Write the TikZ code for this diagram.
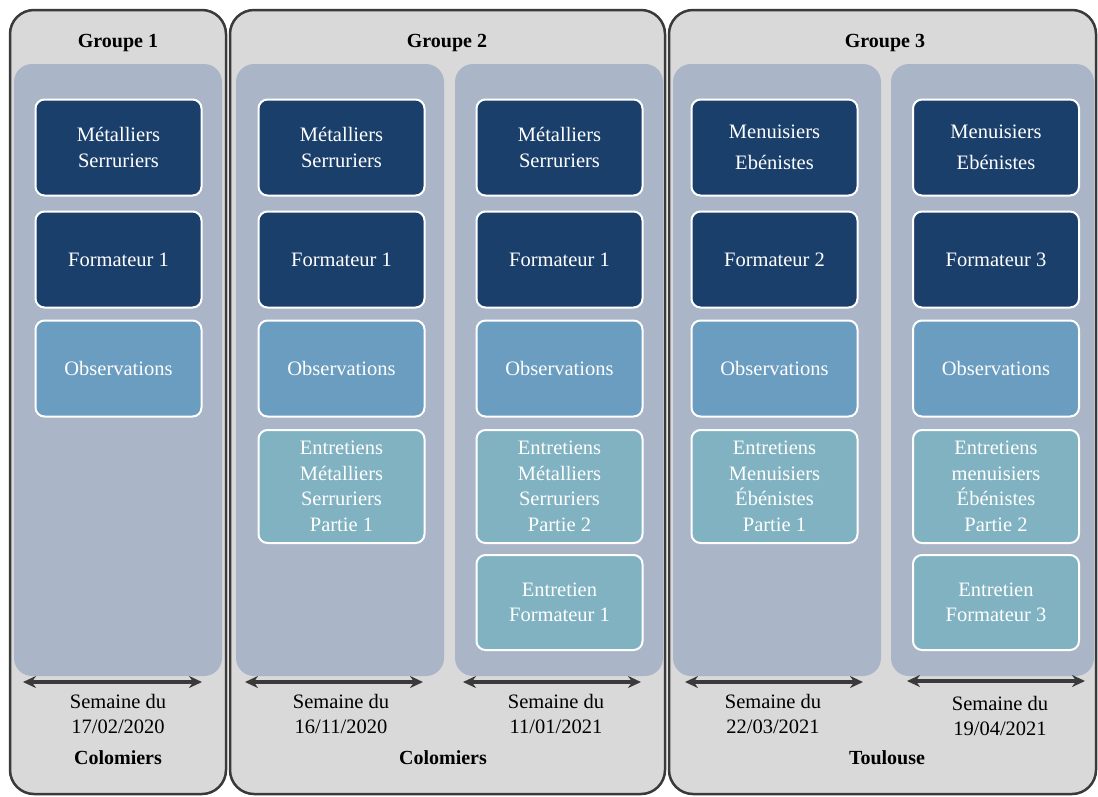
\documentclass[tikz,border=0pt]{standalone}
\usepackage{fontspec}
\setmainfont{Liberation Serif}
\usetikzlibrary{arrows.meta}
\definecolor{groupgray}{HTML}{D9D9D9}
\definecolor{colgray}{HTML}{ABB5C8}
\definecolor{navy}{HTML}{1B3F6B}
\definecolor{obsblue}{HTML}{6A9DBF}
\definecolor{intblue}{HTML}{80B2C1}
\definecolor{edgegray}{HTML}{3A3A3A}
\newcommand{\cellfont}{\fontsize{20.5}{25.5}\selectfont}
\newcommand{\titlefont}{\fontsize{20}{24}\selectfont\bfseries}
\tikzset{
  groupbox/.style={draw=edgegray, line width=2.5pt, fill=groupgray, rounded corners=24pt},
  colbox/.style={fill=colgray, rounded corners=18pt},
  cell/.style={draw=white, line width=2pt, rounded corners=9pt, text=white,
    align=center, minimum width=166pt, inner sep=2pt, font=\cellfont},
  darkcell/.style={cell, fill=navy, minimum height=96pt},
  obscell/.style={cell, fill=obsblue, minimum height=96pt},
  intcell/.style={cell, fill=intblue},
  week/.style={{Stealth[length=13pt,width=12pt]}-{Stealth[length=13pt,width=12pt]},
    draw=edgegray, line width=3.2pt},
  weektext/.style={align=center, font=\cellfont},
  grouptitle/.style={font=\titlefont}
}

\begin{document}
\begin{tikzpicture}[x=1pt, y=-1pt]
    \useasboundingbox (0,0) rectangle (1098,796);
    % groups
    \draw[groupbox] (10,10) rectangle (226,794);
    \draw[groupbox] (230,10) rectangle (665,794);
    \draw[groupbox] (669,10) rectangle (1096,794);
    \node[grouptitle] (g1) at (118,43) {Groupe 1};
    \node[grouptitle] (g2) at (447,43) {Groupe 2};
    \node[grouptitle] (g3) at (885,43) {Groupe 3};
    % one column per week
    \foreach \xa/\xb in {14/222, 236/444, 455/663, 673/881, 891/1094}
        \fill[colbox] (\xa,64) rectangle (\xb,676);

    % week 1
    \node[darkcell] (met1) at (118.5,147.5) {Métalliers\\Serruriers};
    \node[darkcell] (form1) at (118.5,259.5) {Formateur 1};
    \node[obscell] (obs1) at (118.5,368.5) {Observations};
    % week 2
    \node[darkcell] (met2) at (341.5,147.5) {Métalliers\\Serruriers};
    \node[darkcell] (form2) at (341.5,259.5) {Formateur 1};
    \node[obscell] (obs2) at (341.5,368.5) {Observations};
    \node[intcell, minimum height=113pt] (int2) at (341.5,486.5)
        {Entretiens\\Métalliers\\Serruriers\\Partie 1};
    % week 3
    \node[darkcell] (met3) at (559.5,147.5) {Métalliers\\Serruriers};
    \node[darkcell] (form3) at (559.5,259.5) {Formateur 1};
    \node[obscell] (obs3) at (559.5,368.5) {Observations};
    \node[intcell, minimum height=113pt] (int3) at (559.5,486.5)
        {Entretiens\\Métalliers\\Serruriers\\Partie 2};
    \node[intcell, minimum height=95pt] (intf3) at (559.5,602.5)
        {Entretien\\Formateur 1};
    % week 4
    \node[darkcell] (men4) at (774.5,147.5) {Menuisiers\\[6pt]Ebénistes};
    \node[darkcell] (form4) at (774.5,259.5) {Formateur 2};
    \node[obscell] (obs4) at (774.5,368.5) {Observations};
    \node[intcell, minimum height=113pt] (int4) at (774.5,486.5)
        {Entretiens\\Menuisiers\\Ébénistes\\Partie 1};
    % week 5
    \node[darkcell] (men5) at (996,147.5) {Menuisiers\\[6pt]Ebénistes};
    \node[darkcell] (form5) at (996,259.5) {Formateur 3};
    \node[obscell] (obs5) at (996,368.5) {Observations};
    \node[intcell, minimum height=113pt] (int5) at (996,486.5)
        {Entretiens\\menuisiers\\Ébénistes\\Partie 2};
    \node[intcell, minimum height=95pt] (intf5) at (996,602.5)
        {Entretien\\Formateur 3};

    % week spans
    \coordinate (w1l) at (23,682);  \coordinate (w1r) at (202,682);
    \coordinate (w2l) at (245,682); \coordinate (w2r) at (423,682);
    \coordinate (w3l) at (463,682); \coordinate (w3r) at (641,682);
    \coordinate (w4l) at (685,682); \coordinate (w4r) at (863,682);
    \coordinate (w5l) at (907,681); \coordinate (w5r) at (1085,681);
    \draw[week] (w1l) -- (w1r);
    \draw[week] (w2l) -- (w2r);
    \draw[week] (w3l) -- (w3r);
    \draw[week] (w4l) -- (w4r);
    \draw[week] (w5l) -- (w5r);
    \node[weektext] (d1) at (118,714) {Semaine du\\17/02/2020};
    \node[weektext] (d2) at (341,714) {Semaine du\\16/11/2020};
    \node[weektext] (d3) at (556,714) {Semaine du\\11/01/2021};
    \node[weektext] (d4) at (773,714) {Semaine du\\22/03/2021};
    \node[weektext] (d5) at (1000,716) {Semaine du\\19/04/2021};
    \node[grouptitle] (p1) at (118,758) {Colomiers};
    \node[grouptitle] (p2) at (443,758) {Colomiers};
    \node[grouptitle] (p3) at (887,758) {Toulouse};
\end{tikzpicture}
\end{document}
